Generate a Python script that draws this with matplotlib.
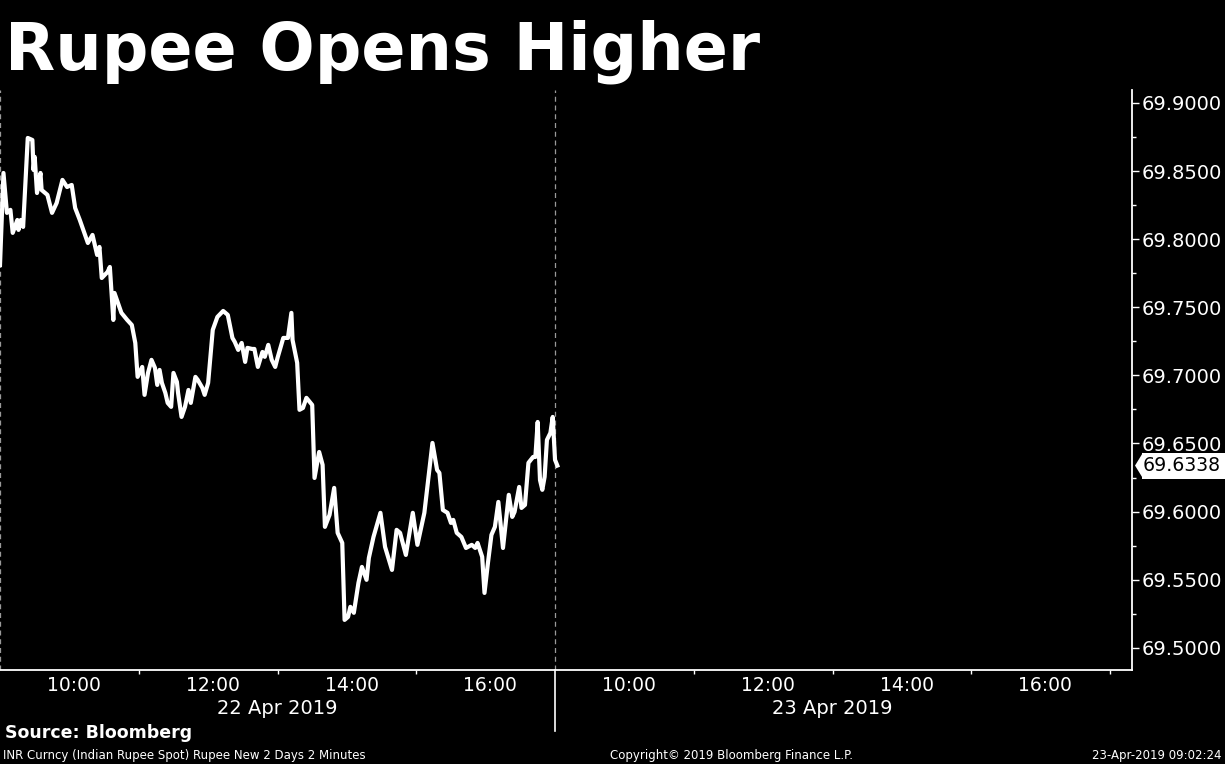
import matplotlib
matplotlib.use("Agg")
import matplotlib.pyplot as plt
from matplotlib.patches import Polygon, Rectangle
from matplotlib.ticker import MultipleLocator, FixedLocator, FixedFormatter, NullFormatter

# --- Data: INR spot, 22 Apr 2019 (minutes after 09:00) ---
mins_from_0900 = [
    0, 3, 6, 9, 11, 15, 16, 18, 20, 24,
    28, 29, 30, 32, 35, 36, 41, 45, 49, 54,
    58, 62, 65, 69, 76, 80, 84, 86, 88, 93,
    95, 98, 99, 102, 105, 110, 114, 117, 119, 123,
    125, 128, 131, 134, 136, 138, 140, 143, 145, 148,
    150, 153, 154, 157, 160, 163, 165, 169, 171, 175,
    177, 180, 184, 188, 193, 197, 201, 203, 206, 209,
    212, 214, 218, 220, 223, 227, 229, 232, 235, 238,
    240, 245, 249, 252, 253, 257, 259, 262, 265, 270,
    272, 276, 279, 281, 285, 289, 292, 296, 298, 301,
    303, 306, 310, 313, 317, 319, 323, 329, 333, 339,
    343, 346, 351, 357, 361, 367, 374, 378, 380, 383,
    387, 390, 392, 395, 399, 403, 408, 411, 413, 417,
    419, 422, 425, 428, 431, 435, 440, 443, 445, 449,
    451, 454, 457, 461, 463, 465, 467, 469, 471, 473,
    476, 478, 480, 482,
]
inr = [
    69.7810, 69.8486, 69.8193, 69.8215, 69.8046, 69.8141, 69.8068, 69.8141, 69.8090, 69.8743,
    69.8728, 69.8508, 69.8604, 69.8339, 69.8486, 69.8361, 69.8325, 69.8193, 69.8266, 69.8435,
    69.8383, 69.8398, 69.8229, 69.8141, 69.7972, 69.8031, 69.7884, 69.7943, 69.7715, 69.7759,
    69.7796, 69.7407, 69.7605, 69.7532, 69.7459, 69.7407, 69.7370, 69.7238, 69.6989, 69.7062,
    69.6857, 69.7018, 69.7114, 69.7055, 69.6930, 69.7040, 69.6945, 69.6871, 69.6798, 69.6769,
    69.7018, 69.6952, 69.6871, 69.6695, 69.6769, 69.6893, 69.6798, 69.6989, 69.6967, 69.6908,
    69.6857, 69.6945, 69.7334, 69.7429, 69.7473, 69.7444, 69.7275, 69.7246, 69.7187, 69.7238,
    69.7099, 69.7202, 69.7194, 69.7194, 69.7062, 69.7172, 69.7136, 69.7224, 69.7114, 69.7062,
    69.7128, 69.7275, 69.7275, 69.7459, 69.7260, 69.7092, 69.6747, 69.6761, 69.6835, 69.6783,
    69.6247, 69.6438, 69.6343, 69.5888, 69.5976, 69.6174, 69.5844, 69.5770, 69.5205, 69.5227,
    69.5301, 69.5257, 69.5477, 69.5594, 69.5499, 69.5660, 69.5814, 69.5991, 69.5741, 69.5572,
    69.5866, 69.5844, 69.5682, 69.5991, 69.5756, 69.5991, 69.6504, 69.6306, 69.6284, 69.6012,
    69.5991, 69.5917, 69.5939, 69.5844, 69.5814, 69.5733, 69.5756, 69.5733, 69.5770, 69.5668,
    69.5403, 69.5624, 69.5829, 69.5888, 69.6071, 69.5733, 69.6123, 69.5961, 69.5998, 69.6181,
    69.6027, 69.6049, 69.6358, 69.6401, 69.6401, 69.6658, 69.6232, 69.6160, 69.6255, 69.6526,
    69.6578, 69.6695, 69.6380, 69.6338,
]
last_value = 69.6338

# x axis: day 1 = 0..480 min, day 2 = 480..960 min (09:00 - 17:00 each)
day_break = 480
label_pos = [64, 184, 304, 424, 544, 664, 784, 904]
label_txt = ["10:00", "12:00", "14:00", "16:00", "10:00", "12:00", "14:00", "16:00"]
tick_pos = [120, 240, 360, 600, 720, 840, 960]
day_labels = ["22 Apr 2019", "23 Apr 2019"]
day_centers = [240, 720]

y_min, y_max = 69.4837, 69.9095

# --- Figure ---
fig = plt.figure(figsize=(12.25, 7.64), dpi=100, facecolor="black")
ax = fig.add_axes([0.0, 0.1230, 0.9241, 0.7592], facecolor="black")

ax.plot(mins_from_0900, inr, color="white", linewidth=3.0, solid_joinstyle="round", zorder=3)

ax.set_xlim(0, 979)
ax.set_ylim(y_min, y_max)

for s in ["top", "left"]:
    ax.spines[s].set_visible(False)
for s in ["bottom", "right"]:
    ax.spines[s].set_color("white")
    ax.spines[s].set_linewidth(1.3)

# dashed day separators
for xv in [0, day_break]:
    ax.axvline(xv, color="#9a9a9a", linestyle=(0, (4, 3)), linewidth=0.9, zorder=1)
# solid separator below the axis
ax.plot([day_break, day_break], [0, -0.105], color="white", linewidth=1.2,
        transform=ax.get_xaxis_transform(), clip_on=False)

# x ticks
ax.xaxis.set_major_locator(FixedLocator(tick_pos))
ax.xaxis.set_major_formatter(NullFormatter())
ax.xaxis.set_minor_locator(FixedLocator(label_pos))
ax.xaxis.set_minor_formatter(FixedFormatter(label_txt))
ax.tick_params(axis="x", which="major", direction="out", length=3, width=1, color="white")
ax.tick_params(axis="x", which="minor", length=0, pad=4, labelsize=13.5, labelcolor="white")

for xc, txt in zip(day_centers, day_labels):
    ax.text(xc, -0.067, txt, transform=ax.get_xaxis_transform(), ha="center", va="center",
            color="white", fontsize=14)

# y ticks on the right
ax.yaxis.tick_right()
ax.yaxis.set_major_locator(MultipleLocator(0.05))
ax.yaxis.set_minor_locator(MultipleLocator(0.025))
ax.yaxis.set_major_formatter(lambda v, p: f"{v:.4f}")
ax.tick_params(axis="y", which="major", direction="out", length=5, width=1, color="white",
               labelsize=14, labelcolor="white", pad=2)
ax.tick_params(axis="y", which="minor", direction="out", length=3, width=1, color="white")

# last value tag
bt = ax.get_yaxis_transform()
h = 13 / 1362
ax.add_patch(Polygon([(1135 / 1132, last_value), (1143 / 1132, last_value + h),
                      (1143 / 1132, last_value - h)], closed=True, facecolor="white",
                     edgecolor="none", transform=bt, clip_on=False, zorder=5))
ax.add_patch(Rectangle((1142 / 1132, last_value - h), 90 / 1132, 2 * h, facecolor="white",
                       edgecolor="none", transform=bt, clip_on=False, zorder=5))
ax.text(1143 / 1132, last_value, f"{last_value:.4f}", transform=bt, ha="left", va="center",
        color="black", fontsize=13.6, zorder=6)

# --- Texts ---
fig.text(5 / 1225, 1 - 70 / 764, "Rupee Opens Higher", color="white", fontsize=47,
         fontweight="bold", ha="left", va="baseline")
fig.text(5 / 1225, 1 - 733 / 764, "Source: Bloomberg", color="white", fontsize=12.5,
         fontweight="bold", ha="left", va="center")
fig.text(3 / 1225, 1 - 755 / 764, "INR Curncy (Indian Rupee Spot) Rupee New 2 Days 2 Minutes",
         color="white", fontsize=8.5, ha="left", va="center")
fig.text(731 / 1225, 1 - 755 / 764, "Copyright\u00a9 2019 Bloomberg Finance L.P.",
         color="white", fontsize=8.5, ha="center", va="center")
fig.text(1222 / 1225, 1 - 755 / 764, "23-Apr-2019 09:02:24", color="white", fontsize=8.5,
         ha="right", va="center")

fig.savefig("out.png", dpi=100, facecolor="black")
